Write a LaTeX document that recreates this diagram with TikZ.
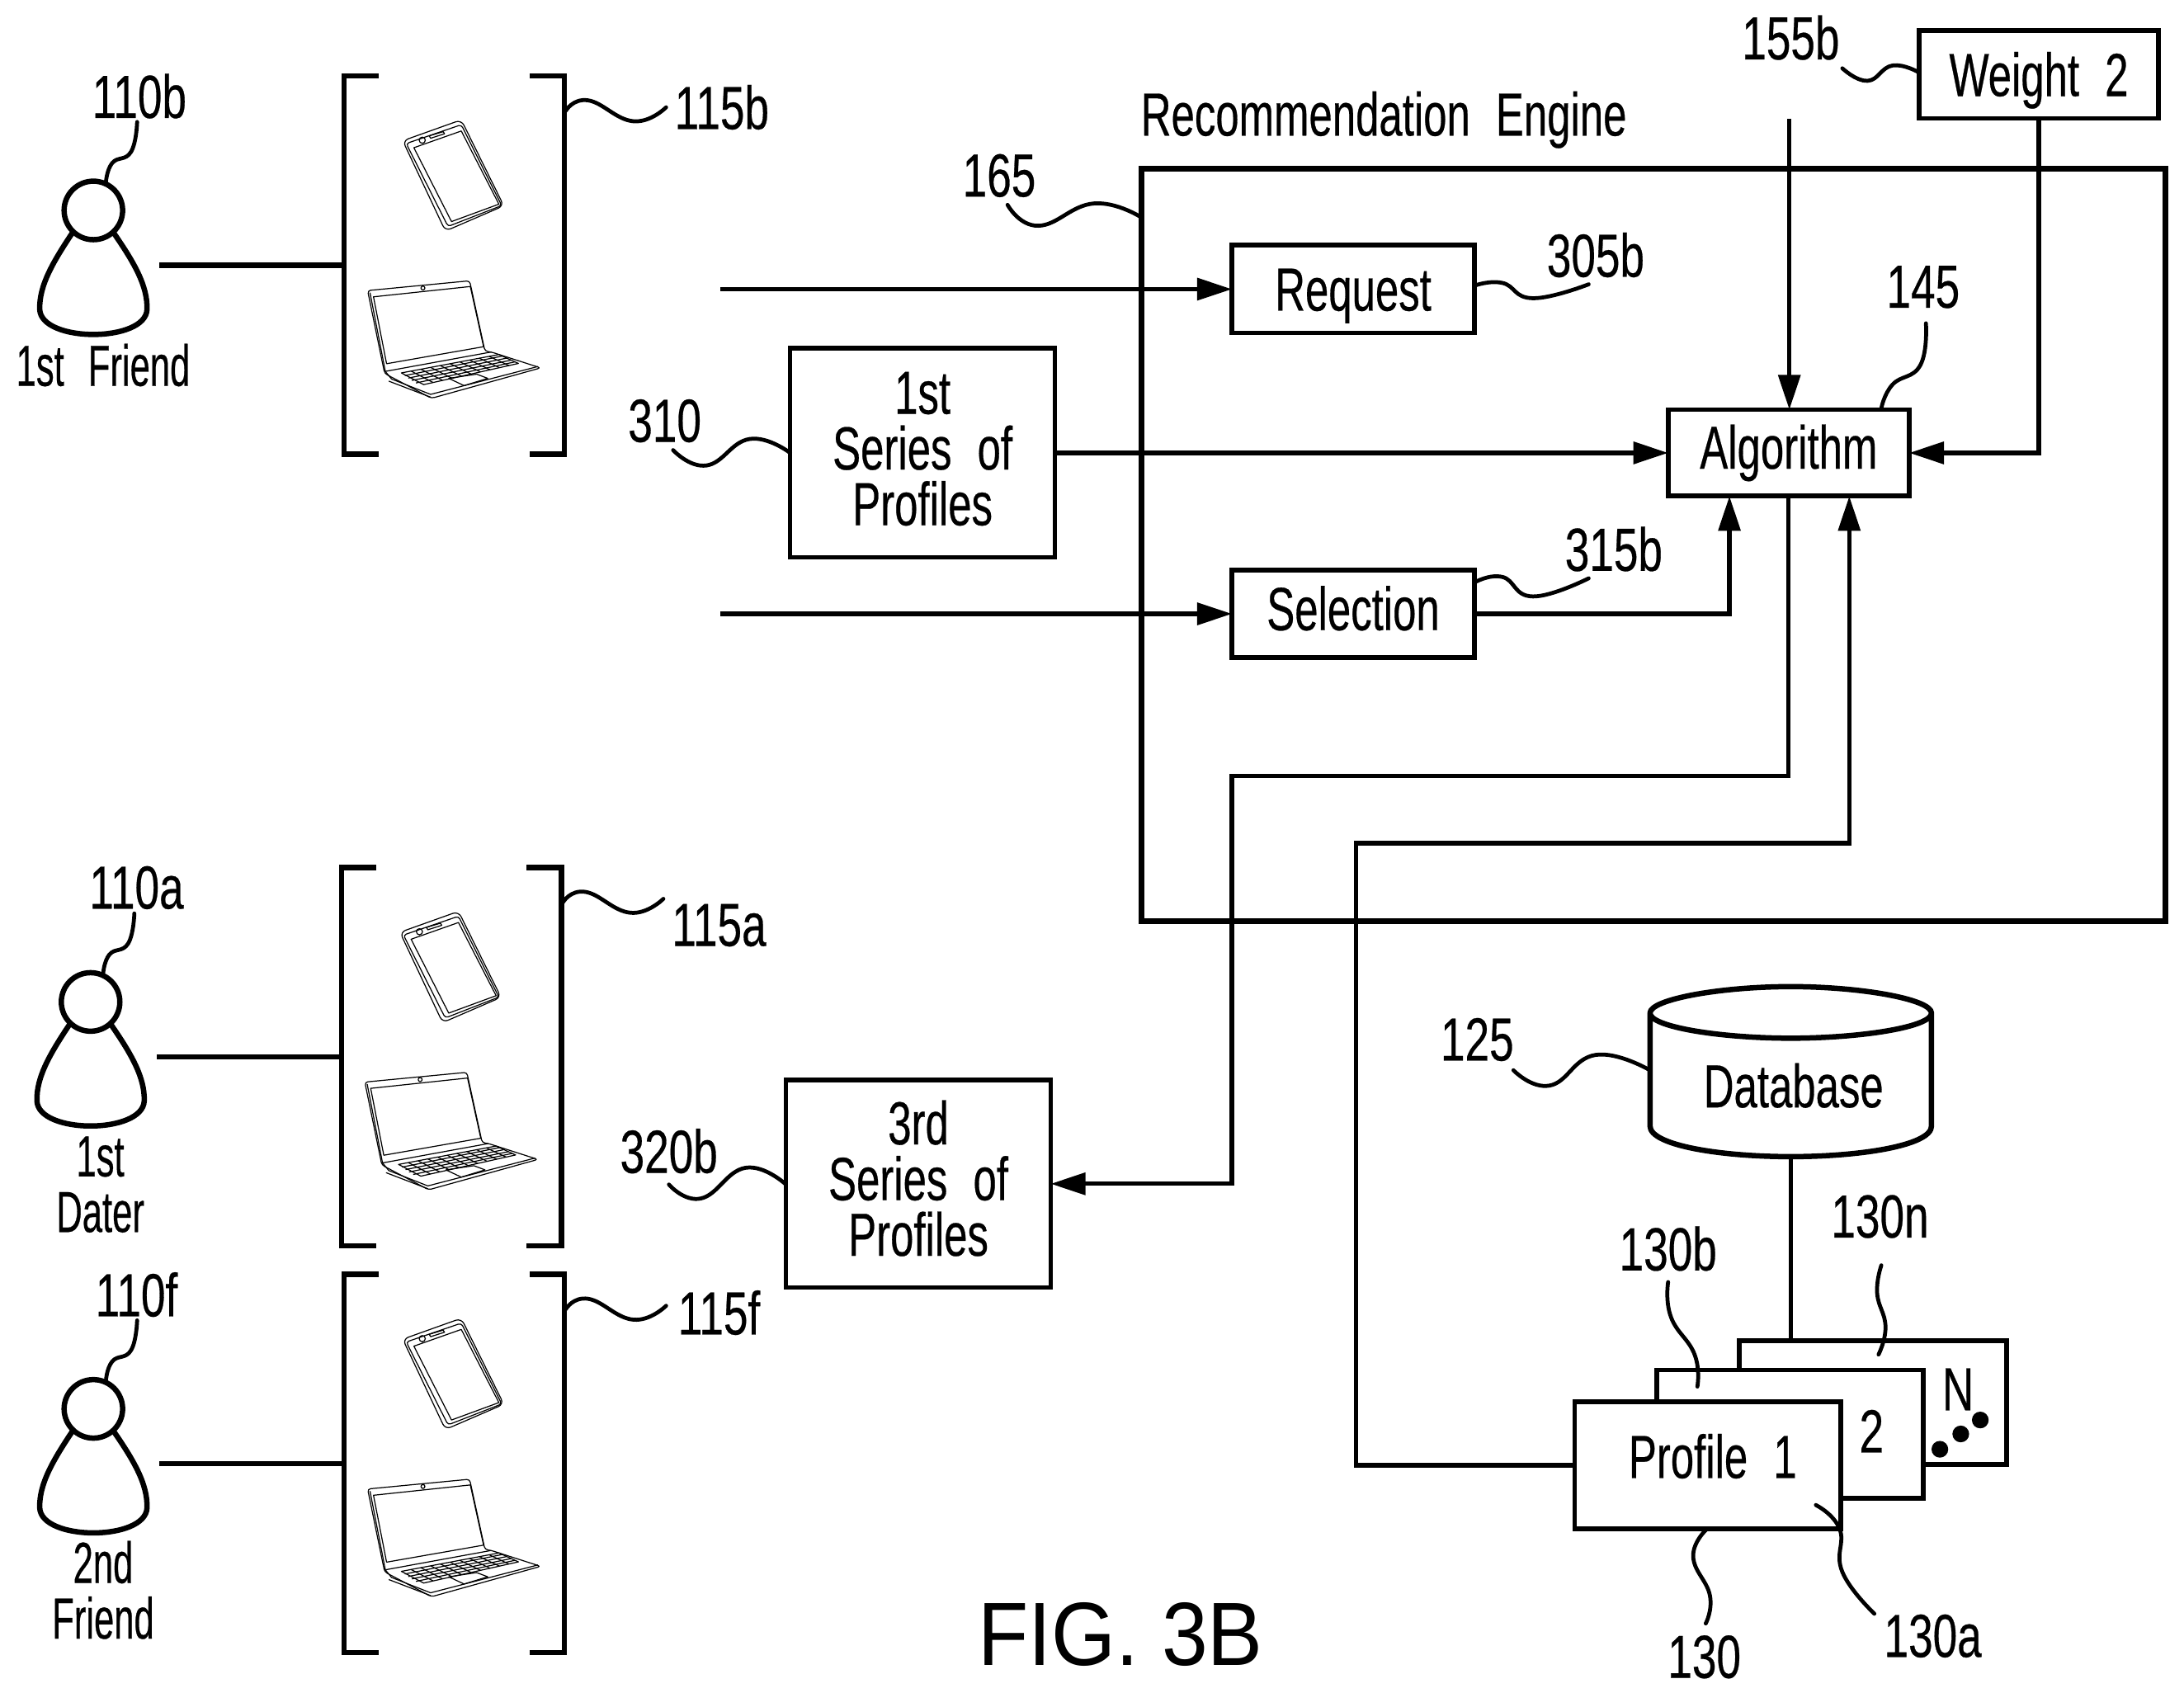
\documentclass[tikz,border=0pt]{standalone}
\usepackage{fontspec}
\setmainfont[FakeStretch=0.72,FakeBold=0.35,WordSpace=2.2]{Liberation Sans}
\newfontfamily\wordfont[FakeStretch=0.69,FakeBold=0.35,WordSpace=2.2]{Liberation Sans}
\newfontfamily\personfont[FakeStretch=0.62,FakeBold=0.35,WordSpace=2.4]{Liberation Sans}
\newfontfamily\figfont[FakeStretch=0.92]{Liberation Sans}
\usetikzlibrary{arrows.meta,calc}
\def\uu{0.01689cm}
\tikzset{
  x=0.01689cm,y=-0.01689cm,
  every node/.style={inner sep=0,outer sep=0},
  lbl/.style={font=\fontsize{21}{19.2}\selectfont,align=center},
  wlbl/.style={font=\wordfont\fontsize{21}{19.2}\selectfont,align=center},
  plbl/.style={font=\personfont\fontsize{20}{19.2}\selectfont,align=center},
  card/.style={draw,line width=1.6pt,fill=white,font=\wordfont\fontsize{21}{19.2}\selectfont,align=center},
  wire/.style={line width=1.5pt},
  arr/.style={line width=1.5pt,-{Triangle[length=12pt,width=7.5pt]}},
  leader/.style={line width=1.35pt,line cap=round},
  heavy/.style={line width=1.85pt,line join=round},
  fine/.style={line width=0.35pt,line join=round},
  usergroup/.pic={
    \coordinate (-conn) at (114.5,190.4);
    \coordinate (-brk) at (247,190.4);
    \draw[heavy] (67,151) ellipse [x radius=21,y radius=21];
    \draw[heavy] (52,167) .. controls (38,188) and (28,205) .. (28.5,222)
      .. controls (29,234) and (48,240) .. (67,240)
      .. controls (86,240) and (105,234) .. (105.5,222)
      .. controls (106,205) and (96,188) .. (81.5,167);
    \draw[heavy,line join=miter] (272,54.5) -- (247,54.5) -- (247,326) -- (272,326);
    \draw[heavy,line join=miter] (380,54.5) -- (405,54.5) -- (405,326) -- (380,326);
    \draw[heavy] (-conn) -- (-brk);
    % phone
    \draw[fine,rounded corners=2] (289,101) -- (331,86) -- (361.5,147.7) -- (319.6,165.8) -- cycle;
    \draw[fine,rounded corners=1] (291.5,103) -- (331,89.5) -- (360,147.5) -- (321.5,162.5) -- cycle;
    \draw[fine] (297,106) -- (331,94) -- (358,146.5) -- (324,159) -- cycle;
    \draw[fine] (303,100.6) circle [radius=2.2];
    \draw[fine] (308,97.5) -- (318,94.5) -- (319,96) -- (309,99.2) -- cycle;
    % laptop
    \draw[fine,rounded corners=1] (263.8,208.5) -- (337,201.5) -- (348,252) -- (352.5,252.6) -- (388,264) -- (309.6,285.8) -- (276,268) -- cycle;
    \draw[fine] (268,213) -- (337.5,205.6) -- (347,248.8) -- (277.4,261) -- cycle;
    \draw[fine] (265.5,210) -- (276.5,266.5) -- (352.5,252.6);
    \draw[fine] (276.5,266.5) -- (281,272) -- (309,283) -- (386,263);
    \draw[fine] (279,273.5) -- (309,285);
    \draw[fine] (288,267.6) -- (358,254.4) -- (372,260.8) -- (304,276) -- cycle;
    \draw[fine] (290.5,269.5) -- (360.5,255.5);
    \draw[fine] (293,271.3) -- (363.5,257);
    \draw[fine] (295.5,273) -- (366.5,258.5);
    \draw[fine] (298.5,274.8) -- (369.5,259.7);
    \foreach \t in {0.1,0.2,...,0.91}{
      \draw[fine] ($(288,267.6)!\t!(358,254.4)$) -- ($(304,276)!\t!(372,260.8)$);
    }
    \draw[fine] (322,271.5) -- (342,268.5) -- (350,271.5) -- (333,276.7) -- cycle;
    \draw[fine] (303.5,206.7) circle [radius=1.4];
  }
}
\begin{document}
\begin{tikzpicture}
\useasboundingbox (0,0) rectangle (1567.2,1214.9);
% user groups
\pic (ub) at (0,0) {usergroup};
\pic (ua) at (-2,568) {usergroup};
\pic (uf) at (0,860) {usergroup};
% people labels
\node[lbl] (l110b) at (100,69) {110b};
\node[plbl] (l1f) at (74,262) {1st Friend};
\node[lbl] (l115b) at (518,77) {115b};
\node[lbl] (l110a) at (98,637) {110a};
\node[plbl] (l1d) at (72,850) {1st\\Dater};
\node[lbl] (l115a) at (516,664) {115a};
\node[lbl] (l110f) at (98,929) {110f};
\node[plbl] (l2f) at (74,1141) {2nd\\Friend};
\node[lbl] (l115f) at (516,942) {115f};
\foreach \dy/\dx in {0/0,568/-2,860/0}{
  \draw[leader] plot[smooth,tension=.8] coordinates {(98.4+\dx,87.5+\dy) (94+\dx,109+\dy) (80.5+\dx,117+\dy) (76+\dx,131+\dy)};
  \draw[leader] plot[smooth,tension=.8] coordinates {(406+\dx,79.5+\dy) (422+\dx,72+\dy) (454.5+\dx,87+\dy) (478+\dx,77+\dy)};
}
% engine
\node[wlbl] (t) at (993,86) {Recommendation Engine};
\node[draw,line width=1.85pt,minimum width={735*\uu},minimum height={540*\uu}] (eng) at (1186.5,391) {};
\node[lbl] (l165) at (717,126) {165};
\draw[leader] plot[smooth,tension=.8] coordinates {(723,147) (745,162) (785,146) (819,156)};
% boxes
\node[card,minimum width={174*\uu},minimum height={63*\uu},text height=15.3pt,text depth=0.5pt] (req) at (971,207.5) {Request};
\node[card,minimum width={190*\uu},minimum height={150*\uu},text depth=3pt] (ser1) at (662,325) {1st\\Series of\\Profiles};
\node[card,minimum width={173*\uu},minimum height={62*\uu}] (alg) at (1283.5,325) {Algorithm};
\node[card,minimum width={174*\uu},minimum height={63*\uu},text height=15.3pt,text depth=4.1pt] (sel) at (971,440.5) {Selection};
\node[card,minimum width={172*\uu},minimum height={63*\uu},text height=15.3pt,text depth=0.5pt] (wt) at (1463,53.5) {Weight 2};
\node[card,minimum width={190*\uu},minimum height={149*\uu},text depth=4pt] (ser3) at (659,849.5) {3rd\\Series of\\Profiles};
% free ends
\coordinate (inA) at (517,207.5);
\coordinate (inB) at (517,440.5);
\coordinate (w155) at (1284,85);
\draw[arr] (inA) -- (req.west);
\draw[arr] (inB) -- (sel.west);
\draw[arr] (ser1.east) -- (alg.west);
\draw[arr] (sel.east) -| ($(alg.south)+(-42.5,0)$);
\draw[arr] (w155) -- (w155 |- alg.north);
\draw[arr] (wt.south) |- (alg.east);
\draw[arr] (alg.south) |- (884,557) |- (ser3.east);
% database
\node[wlbl] (dbt) at (1287,779) {Database};
\coordinate (dbb) at (1285,830);
\draw[heavy] (1184,727) .. controls (1184,717) and (1235,708) .. (1285,708)
  .. controls (1335,708) and (1386,717) .. (1386,727)
  .. controls (1386,737) and (1335,745) .. (1285,745)
  .. controls (1235,745) and (1184,737) .. (1184,727) -- (1184,808)
  .. controls (1184,822) and (1235,830) .. (dbb)
  .. controls (1335,830) and (1386,822) .. (1386,808) -- (1386,727);
% profile cards
\node[card,minimum width={192*\uu},minimum height={89*\uu}] (pN) at (1344,1006.5) {};
\node[card,minimum width={191*\uu},minimum height={92*\uu}] (p2) at (1284.5,1029) {};
\node[card,minimum width={191*\uu},minimum height={91*\uu}] (p1) at (1225.5,1051.5) {};
\node[wlbl] at (1229,1045) {Profile 1};
\node[lbl] at (1343,1027) {2};
\node[lbl] at (1405,997) {N};
\fill (1392,1040) circle [radius=6];
\fill (1407,1029) circle [radius=6];
\fill (1421,1019) circle [radius=6];
\draw[wire] (dbb) -- (dbb |- pN.north);
\draw[arr] (p1.west) -| (973,605) -| ($(alg.south)+(43.5,0)$);
% labels and leaders
\node[lbl] (l155b) at (1285,27) {155b};
\draw[leader] plot[smooth,tension=.8] coordinates {(1322,49) (1340,58) (1358,47) (1377,52)};
\node[lbl] (l305b) at (1145,183) {305b};
\draw[leader] plot[smooth,tension=.8] coordinates {(1058,205) (1078,203) (1100,214) (1140,204)};
\node[lbl] (l145) at (1380,206) {145};
\draw[leader] plot[smooth,tension=.8] coordinates {(1350,293) (1358,276) (1378,262) (1382,232)};
\node[lbl] (l315b) at (1158,394) {315b};
\draw[leader] plot[smooth,tension=.8] coordinates {(1058,418) (1078,414) (1100,428) (1140,415)};
\node[lbl] (l310) at (477,302) {310};
\draw[leader] plot[smooth,tension=.8] coordinates {(483,323) (507,334) (538,315) (567,325)};
\node[lbl] (l320b) at (480,826) {320b};
\draw[leader] plot[smooth,tension=.8] coordinates {(480,850) (503,860) (535,838) (564,850)};
\node[lbl] (l125) at (1060,746) {125};
\draw[leader] plot[smooth,tension=.8] coordinates {(1086,768) (1112,779) (1145,757) (1184,768)};
\node[lbl] (l130n) at (1349,873) {130n};
\draw[leader] plot[smooth,tension=.8] coordinates {(1350,908) (1347,928) (1353,952) (1348,972)};
\node[lbl] (l130b) at (1197,896) {130b};
\draw[leader] plot[smooth,tension=.8] coordinates {(1197,920) (1199,945) (1216,972) (1218,995)};
\node[lbl] (l130) at (1223,1189) {130};
\draw[leader] plot[smooth,tension=.8] coordinates {(1225,1097) (1215,1117) (1227,1145) (1224,1165)};
\node[lbl] (l130a) at (1387,1174) {130a};
\draw[leader] plot[smooth,tension=.8] coordinates {(1303,1080) (1320,1097) (1322,1128) (1345,1158)};
\node[font=\figfont\fontsize{31}{31}\selectfont] (fig) at (804,1173) {FIG. 3B};
\end{tikzpicture}
\end{document}
